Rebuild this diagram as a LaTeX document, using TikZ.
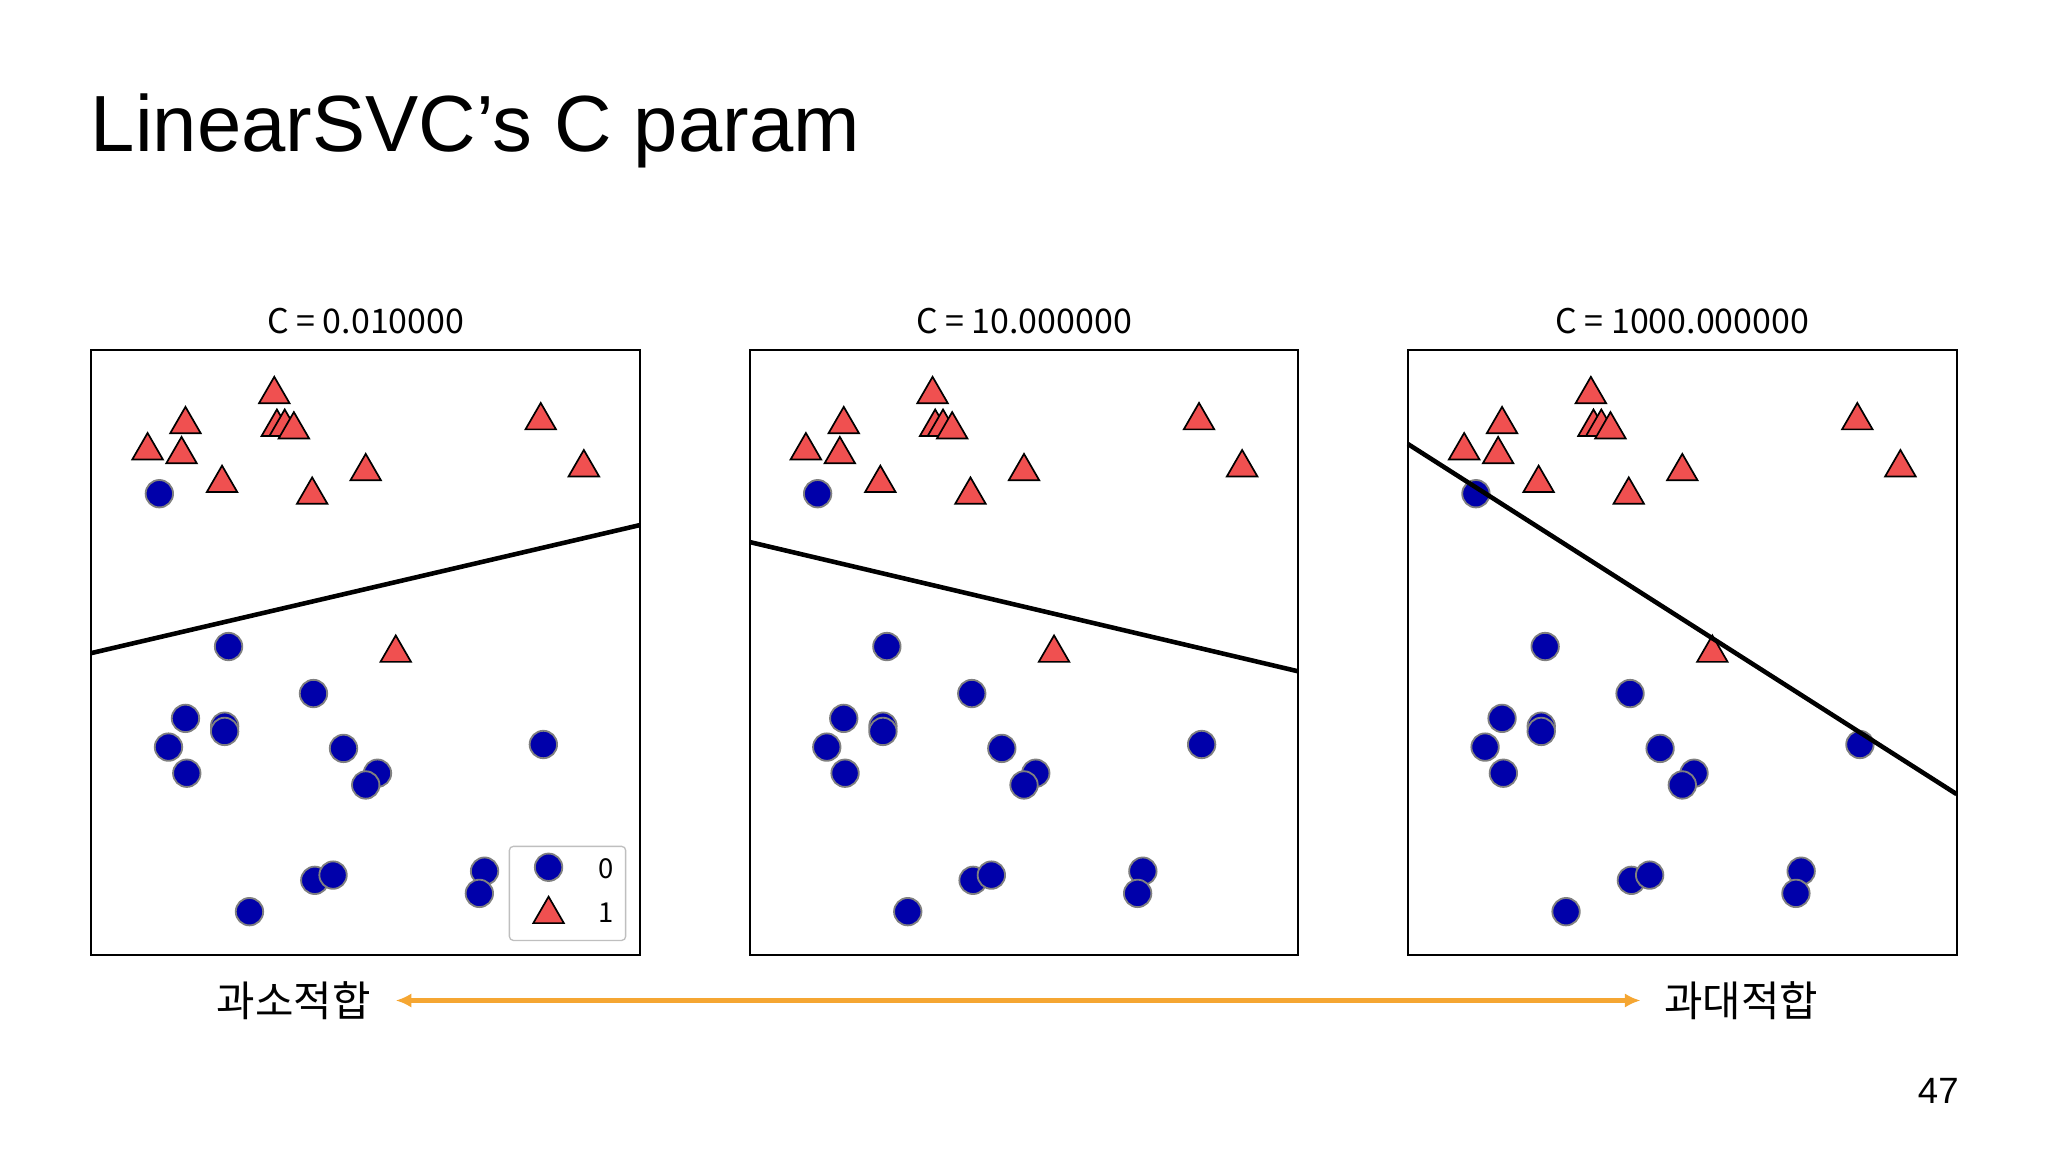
\documentclass[tikz,border=0pt]{standalone}
\usepackage{fontspec}
\usetikzlibrary{shapes.geometric,arrows.meta}
\setmainfont{Liberation Sans}
\newfontfamily\kr{Noto Sans CJK KR}
\definecolor{cblue}{RGB}{0,0,170}
\definecolor{cred}{RGB}{240,80,80}
\definecolor{corange}{RGB}{245,166,50}
\begin{document}
\begin{tikzpicture}[x=1pt,y=-1pt,
  dot/.style={circle,fill=cblue,draw=gray,line width=1.4pt,minimum size=21pt,inner sep=0pt},
  tri/.style={regular polygon,regular polygon sides=3,fill=cred,draw=black,line width=1.3pt,minimum size=27pt,inner sep=0pt},
  panel/.style={draw=black,line width=1.5pt},
  ptitle/.style={font=\kr\fontsize{26}{28}\selectfont}]
\useasboundingbox (0,0) rectangle (1568,882);
\node[anchor=west,font=\fontsize{61}{70}\selectfont] (title) at (66,100) {LinearSVC’s C param};
\foreach \dx/\t [count=\i] in {0/{C = 0.010000},504/{C = 10.000000},1008/{C = 1000.000000}}{
  \begin{scope}[xshift=\dx]
  \node[ptitle] (pt\i) at (280,246) {\t};
  \foreach \x/\y in {210/300,142/323,113/343,139/346,212/325,218/325,225/327,170/368,239/377,280/359,414/320,447/356,303/498}
    \node[tri] at (\x,\y+2) {};
  \foreach \x/\y in {122/378,175/495,240/531,142/550,172/556,172/560,129/572,143/592,263/573,289/592,280/601,416/570,241/674,255/670,191/698,371/667,367/684}
    \node[dot] at (\x,\y) {};
  \end{scope}
}
\draw[line width=3.5pt] (70,500) -- (490,402);
\draw[line width=3.5pt] (574,415) -- (994,514);
\draw[line width=3.5pt] (1078,340) -- (1498,608);
\foreach \dx in {0,504,1008} \draw[panel] (70+\dx,268) rectangle (490+\dx,731);
\draw[draw=gray!50,fill=white,rounded corners=3pt,line width=1pt] (390,648) rectangle (479,720);
\node[dot] (l0) at (420,664) {};
\node[tri] (l1) at (420,700) {};
\node[ptitle,font=\kr\fontsize{21}{24}\selectfont] at (464,665) {0};
\node[ptitle,font=\kr\fontsize{21}{24}\selectfont] at (464,699) {1};
\node[font=\kr\fontsize{32}{36}\selectfont] (under) at (225,766) {과소적합};
\node[font=\kr\fontsize{32}{36}\selectfont] (over) at (1333,766) {과대적합};
\coordinate (a1) at (303,766); \coordinate (a2) at (1256,766);
\draw[corange,line width=3.5pt,{Latex[length=12pt,width=11pt]}-{Latex[length=12pt,width=11pt]}] (a1) -- (a2);
\node[font=\fontsize{28}{32}\selectfont] (pg) at (1484,835) {47};
\end{tikzpicture}
\end{document}
